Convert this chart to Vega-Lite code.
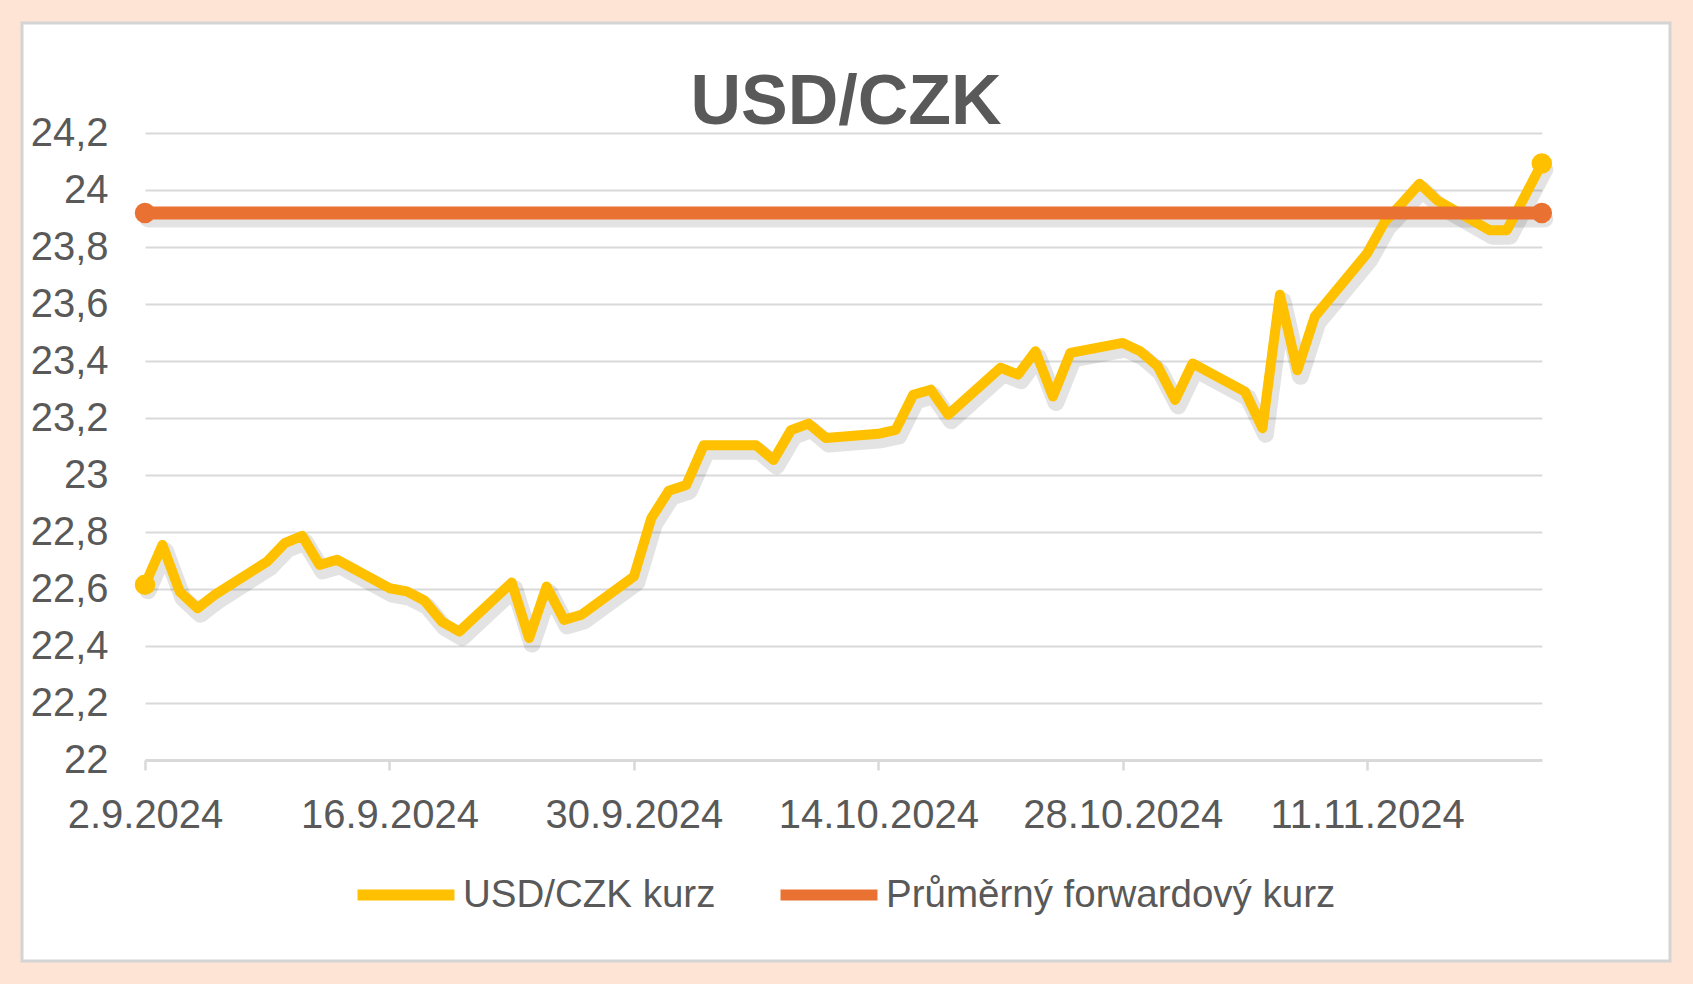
{
  "$schema": "https://vega.github.io/schema/vega-lite/v6.json",
  "width": 1648,
  "height": 938,
  "autosize": {"type": "none"},
  "padding": {"left": 22, "top": 23, "right": 23, "bottom": 23},
  "background": "#FEE4D4",
  "config": {
    "font": "Liberation Sans",
    "view": {"stroke": "#D4D4D4", "strokeWidth": 3, "fill": "#FFFFFF"}
  },
  "title": {
    "text": "USD/CZK",
    "fontSize": 70,
    "fontWeight": "bold",
    "color": "#595959",
    "font": "Liberation Sans",
    "anchor": "middle",
    "frame": "group",
    "baseline": "alphabetic",
    "offset": -171
  },
  "datasets": {
    "rates": [
      {"date": "2024-09-02T00:00:00", "value": 22.615, "series": "USD/CZK kurz"},
      {"date": "2024-09-03T00:00:00", "value": 22.755, "series": "USD/CZK kurz"},
      {"date": "2024-09-04T00:00:00", "value": 22.59, "series": "USD/CZK kurz"},
      {"date": "2024-09-05T00:00:00", "value": 22.533, "series": "USD/CZK kurz"},
      {"date": "2024-09-06T00:00:00", "value": 22.58, "series": "USD/CZK kurz"},
      {"date": "2024-09-09T00:00:00", "value": 22.697, "series": "USD/CZK kurz"},
      {"date": "2024-09-10T00:00:00", "value": 22.761, "series": "USD/CZK kurz"},
      {"date": "2024-09-11T00:00:00", "value": 22.787, "series": "USD/CZK kurz"},
      {"date": "2024-09-12T00:00:00", "value": 22.685, "series": "USD/CZK kurz"},
      {"date": "2024-09-13T00:00:00", "value": 22.703, "series": "USD/CZK kurz"},
      {"date": "2024-09-16T00:00:00", "value": 22.603, "series": "USD/CZK kurz"},
      {"date": "2024-09-17T00:00:00", "value": 22.592, "series": "USD/CZK kurz"},
      {"date": "2024-09-18T00:00:00", "value": 22.56, "series": "USD/CZK kurz"},
      {"date": "2024-09-19T00:00:00", "value": 22.486, "series": "USD/CZK kurz"},
      {"date": "2024-09-20T00:00:00", "value": 22.451, "series": "USD/CZK kurz"},
      {"date": "2024-09-23T00:00:00", "value": 22.623, "series": "USD/CZK kurz"},
      {"date": "2024-09-24T00:00:00", "value": 22.428, "series": "USD/CZK kurz"},
      {"date": "2024-09-25T00:00:00", "value": 22.609, "series": "USD/CZK kurz"},
      {"date": "2024-09-26T00:00:00", "value": 22.492, "series": "USD/CZK kurz"},
      {"date": "2024-09-27T00:00:00", "value": 22.51, "series": "USD/CZK kurz"},
      {"date": "2024-09-30T00:00:00", "value": 22.644, "series": "USD/CZK kurz"},
      {"date": "2024-10-01T00:00:00", "value": 22.849, "series": "USD/CZK kurz"},
      {"date": "2024-10-02T00:00:00", "value": 22.945, "series": "USD/CZK kurz"},
      {"date": "2024-10-03T00:00:00", "value": 22.965, "series": "USD/CZK kurz"},
      {"date": "2024-10-04T00:00:00", "value": 23.105, "series": "USD/CZK kurz"},
      {"date": "2024-10-07T00:00:00", "value": 23.105, "series": "USD/CZK kurz"},
      {"date": "2024-10-08T00:00:00", "value": 23.053, "series": "USD/CZK kurz"},
      {"date": "2024-10-09T00:00:00", "value": 23.158, "series": "USD/CZK kurz"},
      {"date": "2024-10-10T00:00:00", "value": 23.181, "series": "USD/CZK kurz"},
      {"date": "2024-10-11T00:00:00", "value": 23.13, "series": "USD/CZK kurz"},
      {"date": "2024-10-14T00:00:00", "value": 23.145, "series": "USD/CZK kurz"},
      {"date": "2024-10-15T00:00:00", "value": 23.159, "series": "USD/CZK kurz"},
      {"date": "2024-10-16T00:00:00", "value": 23.282, "series": "USD/CZK kurz"},
      {"date": "2024-10-17T00:00:00", "value": 23.3, "series": "USD/CZK kurz"},
      {"date": "2024-10-18T00:00:00", "value": 23.212, "series": "USD/CZK kurz"},
      {"date": "2024-10-21T00:00:00", "value": 23.377, "series": "USD/CZK kurz"},
      {"date": "2024-10-22T00:00:00", "value": 23.353, "series": "USD/CZK kurz"},
      {"date": "2024-10-23T00:00:00", "value": 23.435, "series": "USD/CZK kurz"},
      {"date": "2024-10-24T00:00:00", "value": 23.276, "series": "USD/CZK kurz"},
      {"date": "2024-10-25T00:00:00", "value": 23.429, "series": "USD/CZK kurz"},
      {"date": "2024-10-28T00:00:00", "value": 23.464, "series": "USD/CZK kurz"},
      {"date": "2024-10-29T00:00:00", "value": 23.435, "series": "USD/CZK kurz"},
      {"date": "2024-10-30T00:00:00", "value": 23.382, "series": "USD/CZK kurz"},
      {"date": "2024-10-31T00:00:00", "value": 23.264, "series": "USD/CZK kurz"},
      {"date": "2024-11-01T00:00:00", "value": 23.392, "series": "USD/CZK kurz"},
      {"date": "2024-11-04T00:00:00", "value": 23.293, "series": "USD/CZK kurz"},
      {"date": "2024-11-05T00:00:00", "value": 23.165, "series": "USD/CZK kurz"},
      {"date": "2024-11-06T00:00:00", "value": 23.633, "series": "USD/CZK kurz"},
      {"date": "2024-11-07T00:00:00", "value": 23.368, "series": "USD/CZK kurz"},
      {"date": "2024-11-08T00:00:00", "value": 23.557, "series": "USD/CZK kurz"},
      {"date": "2024-11-11T00:00:00", "value": 23.779, "series": "USD/CZK kurz"},
      {"date": "2024-11-12T00:00:00", "value": 23.889, "series": "USD/CZK kurz"},
      {"date": "2024-11-13T00:00:00", "value": 23.955, "series": "USD/CZK kurz"},
      {"date": "2024-11-14T00:00:00", "value": 24.023, "series": "USD/CZK kurz"},
      {"date": "2024-11-15T00:00:00", "value": 23.965, "series": "USD/CZK kurz"},
      {"date": "2024-11-18T00:00:00", "value": 23.86, "series": "USD/CZK kurz"},
      {"date": "2024-11-19T00:00:00", "value": 23.86, "series": "USD/CZK kurz"},
      {"date": "2024-11-20T00:00:00", "value": 23.976, "series": "USD/CZK kurz"},
      {"date": "2024-11-21T00:00:00", "value": 24.094, "series": "USD/CZK kurz"},
      {"date": "2024-09-02T00:00:00", "value": 23.92, "series": "Průměrný forwardový kurz"},
      {"date": "2024-11-21T00:00:00", "value": 23.92, "series": "Průměrný forwardový kurz"}
    ]
  },
  "data": {"name": "rates"},
  "encoding": {
    "x": {
      "field": "date",
      "type": "temporal",
      "scale": {
        "domain": [{"year": 2024, "month": 9, "date": 2}, {"year": 2024, "month": 11, "date": 21}],
        "range": [123, 1519.8],
        "nice": false
      },
      "axis": {
        "title": null,
        "values": [
          {"year": 2024, "month": 9, "date": 2},
          {"year": 2024, "month": 9, "date": 16},
          {"year": 2024, "month": 9, "date": 30},
          {"year": 2024, "month": 10, "date": 14},
          {"year": 2024, "month": 10, "date": 28},
          {"year": 2024, "month": 11, "date": 11}
        ],
        "format": "%-d.%-m.%Y",
        "grid": false,
        "domainColor": "#D9D9D9",
        "domainWidth": 3,
        "tickColor": "#D9D9D9",
        "tickWidth": 2.5,
        "tickSize": 10,
        "labelFontSize": 40,
        "labelColor": "#595959",
        "labelFont": "Liberation Sans",
        "labelPadding": 25,
        "labelFlush": false,
        "labelOverlap": false,
        "labelLimit": 0,
        "offset": -201
      }
    },
    "y": {
      "field": "value",
      "type": "quantitative",
      "scale": {"domain": [22, 24.2], "range": [737, 110.3], "nice": false, "zero": false},
      "axis": {
        "title": null,
        "values": [22, 22.2, 22.4, 22.6, 22.8, 23, 23.2, 23.4, 23.6, 23.8, 24, 24.2],
        "labelExpr": "replace(format(datum.value, '~g'), '.', ',')",
        "grid": true,
        "gridColor": "#D9D9D9",
        "gridWidth": 2,
        "domain": false,
        "ticks": false,
        "labelFontSize": 40,
        "labelColor": "#595959",
        "labelFont": "Liberation Sans",
        "labelPadding": 37,
        "offset": -123
      }
    }
  },
  "layer": [
    {
      "mark": {"type": "line", "color": "#000000", "opacity": 0.11, "strokeWidth": 17, "xOffset": 3, "yOffset": 6, "strokeJoin": "round", "strokeCap": "round"},
      "encoding": {"detail": {"field": "series"}}
    },
    {
      "transform": [{"filter": "datum.series == 'USD/CZK kurz'"}],
      "mark": {"type": "line", "strokeWidth": 10, "strokeJoin": "round", "strokeCap": "round"},
      "encoding": {
        "color": {
          "field": "series",
          "type": "nominal",
          "scale": {"domain": ["USD/CZK kurz", "Průměrný forwardový kurz"], "range": ["#FFC000", "#E97132"]},
          "legend": {
            "orient": "none",
            "legendX": 330,
            "legendY": 818,
            "direction": "horizontal",
            "title": null,
            "symbolType": "stroke",
            "symbolSize": 9400,
            "symbolStrokeWidth": 11,
            "labelFontSize": 38.5,
            "labelColor": "#595959",
            "labelFont": "Liberation Sans",
            "labelOffset": 3,
            "columnPadding": 42,
            "padding": 0,
            "labelLimit": 0
          }
        }
      }
    },
    {
      "transform": [{"filter": "datum.series == 'Průměrný forwardový kurz'"}],
      "mark": {"type": "line", "strokeWidth": 13, "strokeJoin": "round", "strokeCap": "round"},
      "encoding": {
        "color": {"field": "series", "type": "nominal"}
      }
    },
    {
      "transform": [
        {"window": [{"op": "row_number", "as": "r1"}], "sort": [{"field": "date", "order": "ascending"}], "groupby": ["series"]},
        {"window": [{"op": "row_number", "as": "r2"}], "sort": [{"field": "date", "order": "descending"}], "groupby": ["series"]},
        {"filter": "datum.r1 == 1 || datum.r2 == 1"}
      ],
      "mark": {"type": "point", "filled": true, "opacity": 1, "size": 420, "strokeWidth": 0},
      "encoding": {
        "fill": {
          "field": "series",
          "type": "nominal",
          "scale": {"domain": ["USD/CZK kurz", "Průměrný forwardový kurz"], "range": ["#FFC000", "#E97132"]},
          "legend": null
        }
      }
    }
  ]
}
